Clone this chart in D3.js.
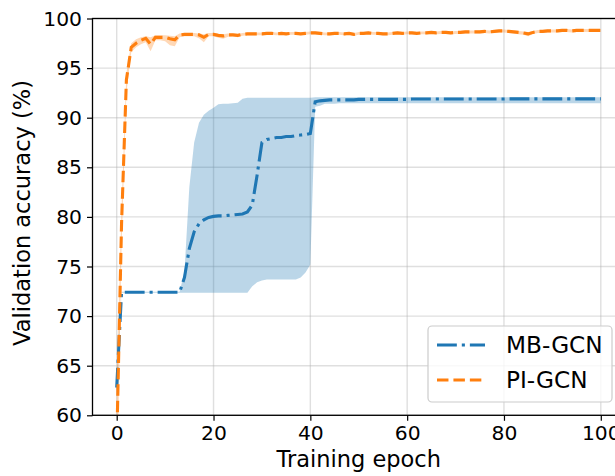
<!DOCTYPE html>
<html><head><meta charset="utf-8">
<script src="https://cdn.jsdelivr.net/npm/d3@7"></script>
<style>body{margin:0;background:#fff}svg{display:block}text{font-family:"DejaVu Sans",sans-serif;fill:#000}</style>
</head><body>
<script>
// ---- data ----
const seriesNames = ["MB-GCN", "PI-GCN"];
const xTicks = [0, 20, 40, 60, 80, 100];
const yTicks = [60, 65, 70, 75, 80, 85, 90, 95, 100];

const mbMean = [62.8,
 72.4,72.4,72.4,72.4,72.4,72.4,72.4,72.4,72.4,72.4,72.4,72.4,72.4,
 73.9,76.8,78.5,79.3,79.7,79.95,80.05,80.1,80.1,80.15,80.2,80.25,80.3,80.5,
 81.2,84.2,87.5,87.8,87.9,88.0,88.0,88.1,88.1,88.2,88.25,88.3,88.4,
 91.6,91.7,91.75,91.8,91.8,91.8,91.8,91.8,91.8,91.85,
 91.85,91.85,91.85,91.85,91.85,91.85,91.85,91.85,91.85,91.85,
 91.88,91.88,91.88,91.88,91.88,91.88,91.88,91.88,91.88,91.88,
 91.88,91.88,91.88,91.88,91.88,91.88,91.88,91.88,91.88,91.88,
 91.9,91.9,91.9,91.9,91.9,91.9,91.9,91.9,91.9,91.9,
 91.9,91.9,91.9,91.9,91.9,91.9,91.9,91.9,91.9,91.9];
const mbHigh = [63.5,
 72.45,72.45,72.45,72.45,72.45,72.45,72.45,72.45,72.45,72.45,72.45,72.45,72.45,
 74.5,83.0,87.5,89.5,90.3,90.7,91.0,91.35,91.4,91.4,91.45,91.5,91.9,92.0,
 92.0,92.0,92.0,92.0,92.0,92.0,92.0,92.0,92.0,92.0,92.0,92.0,92.0,
 92.05,92.05,92.05,92.05,92.05,92.05,92.05,92.05,92.05,92.05,
 92.05,92.05,92.05,92.05,92.05,92.05,92.05,92.05,92.05,92.05,
 92.05,92.05,92.05,92.05,92.05,92.05,92.05,92.05,92.05,92.05,
 92.05,92.05,92.05,92.05,92.05,92.05,92.05,92.05,92.05,92.05,
 92.05,92.05,92.05,92.05,92.05,92.05,92.05,92.05,92.05,92.05,
 92.05,92.05,92.05,92.05,92.05,92.05,92.05,92.05,92.05,92.05];
const mbLow = [62.2,
 72.35,72.35,72.35,72.35,72.35,72.35,72.35,72.35,72.35,72.35,72.35,72.35,72.35,
 72.35,72.35,72.35,72.35,72.35,72.35,72.35,72.35,72.35,72.35,72.35,72.35,72.35,72.35,
 73.0,73.4,73.6,73.7,73.7,73.7,73.7,73.7,73.7,73.7,73.9,74.4,75.2,
 91.1,91.2,91.4,91.4,91.4,91.45,91.45,91.45,91.45,91.45,
 91.45,91.45,91.45,91.45,91.45,91.45,91.45,91.45,91.45,91.45,
 91.45,91.45,91.45,91.45,91.45,91.45,91.45,91.45,91.45,91.45,
 91.45,91.45,91.45,91.45,91.45,91.45,91.45,91.45,91.45,91.45,
 91.45,91.45,91.45,91.45,91.45,91.45,91.45,91.45,91.45,91.45,
 91.45,91.45,91.45,91.45,91.45,91.45,91.45,91.45,91.45,91.45];

const piMean = [57.0,79.3,93.8,97.1,97.5,97.8,98.0,97.4,98.1,98.1,
 98.1,97.95,97.85,98.35,98.4,98.4,98.4,98.35,98.1,98.4,
 98.4,98.3,98.25,98.35,98.35,98.3,98.4,98.45,98.45,98.45,
 98.45,98.5,98.5,98.45,98.5,98.45,98.5,98.5,98.45,98.5,
 98.55,98.55,98.5,98.45,98.45,98.5,98.5,98.45,98.5,98.4,
 98.5,98.5,98.55,98.5,98.5,98.45,98.45,98.5,98.55,98.5,
 98.55,98.55,98.5,98.55,98.55,98.6,98.55,98.6,98.6,98.55,
 98.6,98.6,98.65,98.65,98.65,98.65,98.7,98.65,98.7,98.75,
 98.75,98.7,98.65,98.6,98.55,98.45,98.6,98.7,98.7,98.75,
 98.75,98.75,98.8,98.8,98.75,98.8,98.8,98.8,98.8,98.8,98.8];
const piHigh = [64.0,81.0,94.5,97.5,97.9,98.1,98.2,98.1,98.3,98.3,
 98.3,98.25,98.2,98.5,98.55,98.55,98.55,98.5,98.4,98.55,
 98.55,98.45,98.4,98.5,98.5,98.45,98.55,98.6,98.6,98.6,
 98.6,98.65,98.65,98.6,98.65,98.6,98.65,98.65,98.6,98.65,
 98.7,98.7,98.65,98.6,98.6,98.65,98.65,98.6,98.65,98.55,
 98.65,98.65,98.7,98.65,98.65,98.6,98.6,98.65,98.7,98.65,
 98.7,98.7,98.65,98.7,98.7,98.75,98.7,98.75,98.75,98.7,
 98.75,98.75,98.8,98.8,98.8,98.8,98.85,98.8,98.85,98.9,
 98.9,98.85,98.8,98.75,98.7,98.65,98.75,98.85,98.85,98.9,
 98.9,98.9,98.95,98.95,98.9,98.95,98.95,98.95,98.95,98.95,98.95];
const piLow = [50.0,77.0,92.5,96.6,97.1,97.4,97.6,96.7,97.8,97.8,
 97.7,97.3,97.2,98.1,98.2,98.2,98.2,98.0,97.6,98.2,
 98.2,98.05,97.95,98.15,98.2,98.1,98.25,98.3,98.3,98.3,
 98.3,98.35,98.35,98.3,98.35,98.3,98.35,98.35,98.3,98.35,
 98.4,98.4,98.35,98.3,98.3,98.35,98.35,98.3,98.35,98.25,
 98.35,98.35,98.4,98.35,98.35,98.3,98.3,98.35,98.4,98.35,
 98.4,98.4,98.35,98.4,98.4,98.45,98.4,98.45,98.45,98.4,
 98.45,98.45,98.5,98.5,98.5,98.5,98.55,98.5,98.55,98.6,
 98.6,98.55,98.5,98.4,98.35,98.2,98.45,98.55,98.55,98.6,
 98.6,98.6,98.65,98.65,98.6,98.65,98.65,98.65,98.65,98.65,98.65];

// ---- layout ----
const W = 615, H = 476;
const M = {left: 92.5, right: 625, top: 18.5, bottom: 415.3};
const blue = "#1f77b4", orange = "#ff7f0e";

const svg = d3.select("body").append("svg").attr("width", W).attr("height", H);
const x = d3.scaleLinear().domain([-5, 105]).range([M.left, M.right]);
const y = d3.scaleLinear().domain([60, 100]).range([M.bottom, M.top]);

svg.append("defs").append("clipPath").attr("id", "clip")
  .append("rect").attr("x", M.left).attr("y", M.top)
  .attr("width", M.right - M.left).attr("height", M.bottom - M.top);

// grid
const grid = svg.append("g");
grid.selectAll(".gx").data(xTicks).join("line")
  .attr("x1", d => x(d)).attr("x2", d => x(d)).attr("y1", M.top).attr("y2", M.bottom)
  .attr("stroke", "#b0b0b0").attr("stroke-opacity", 0.4).attr("stroke-width", 1.4);
grid.selectAll(".gy").data(yTicks).join("line")
  .attr("x1", M.left).attr("x2", M.right).attr("y1", d => y(d)).attr("y2", d => y(d))
  .attr("stroke", "#b0b0b0").attr("stroke-opacity", 0.4).attr("stroke-width", 1.4);

const plot = svg.append("g").attr("clip-path", "url(#clip)");
const area = (lo, hi) => d3.area().x((d, i) => x(i)).y0((d, i) => y(lo[i])).y1((d, i) => y(hi[i]));
const line = d3.line().x((d, i) => x(i)).y(d => y(d));

plot.append("path").datum(mbMean).attr("d", area(mbLow, mbHigh)).attr("fill", blue).attr("fill-opacity", 0.3);
plot.append("path").datum(piMean).attr("d", area(piLow, piHigh)).attr("fill", orange).attr("fill-opacity", 0.3);

const lw = 3.1;
plot.append("path").datum(mbMean).attr("d", line).attr("fill", "none").attr("stroke", blue)
  .attr("stroke-width", lw).attr("stroke-dasharray", [6.4*lw, 1.6*lw, 1*lw, 1.6*lw].join(","));
plot.append("path").datum(piMean).attr("d", line).attr("fill", "none").attr("stroke", orange)
  .attr("stroke-width", lw).attr("stroke-dasharray", [3.7*lw, 1.6*lw].join(","));

// axes
const xAxis = svg.append("g").attr("transform", `translate(0,${M.bottom})`)
  .call(d3.axisBottom(x).tickValues(xTicks).tickSize(5.5).tickPadding(5));
const yAxis = svg.append("g").attr("transform", `translate(${M.left},0)`)
  .call(d3.axisLeft(y).tickValues(yTicks).tickSize(5.5).tickPadding(5));
[xAxis, yAxis].forEach(a => {
  a.select(".domain").remove();
  a.selectAll("line").attr("stroke", "#000").attr("stroke-width", 1.2);
  a.selectAll("text").style("font-size", "20.3px").style("font-family", "DejaVu Sans");
});
// spines
svg.append("rect").attr("x", M.left).attr("y", M.top).attr("width", M.right - M.left)
  .attr("height", M.bottom - M.top).attr("fill", "none").attr("stroke", "#000").attr("stroke-width", 1.3);

svg.append("text").attr("x", (M.left + M.right) / 2).attr("y", 466.5).attr("text-anchor", "middle")
  .style("font-size", "22.5px").text("Training epoch");
svg.append("text").attr("transform", "translate(30,213) rotate(-90)").attr("text-anchor", "middle")
  .style("font-size", "22.5px").text("Validation accuracy (%)");

// legend
const lg = svg.append("g");
lg.append("rect").attr("x", 428).attr("y", 326).attr("width", 184).attr("height", 76).attr("rx", 4)
  .attr("fill", "#fff").attr("fill-opacity", 0.8).attr("stroke", "#cccccc").attr("stroke-width", 1.2);
const items = [
  {name: seriesNames[0], color: blue, dash: [6.4*lw, 1.6*lw, 1*lw, 1.6*lw]},
  {name: seriesNames[1], color: orange, dash: [3.7*lw, 1.6*lw]}
];
items.forEach((it, i) => {
  const cy = 345 + i * 35;
  lg.append("line").attr("x1", 437).attr("x2", 485).attr("y1", cy).attr("y2", cy)
    .attr("stroke", it.color).attr("stroke-width", lw).attr("stroke-dasharray", it.dash.join(","));
  lg.append("text").attr("x", 506).attr("y", cy).attr("dy", "0.36em").style("font-size", "23.2px").text(it.name);
});
</script>
</body></html>
